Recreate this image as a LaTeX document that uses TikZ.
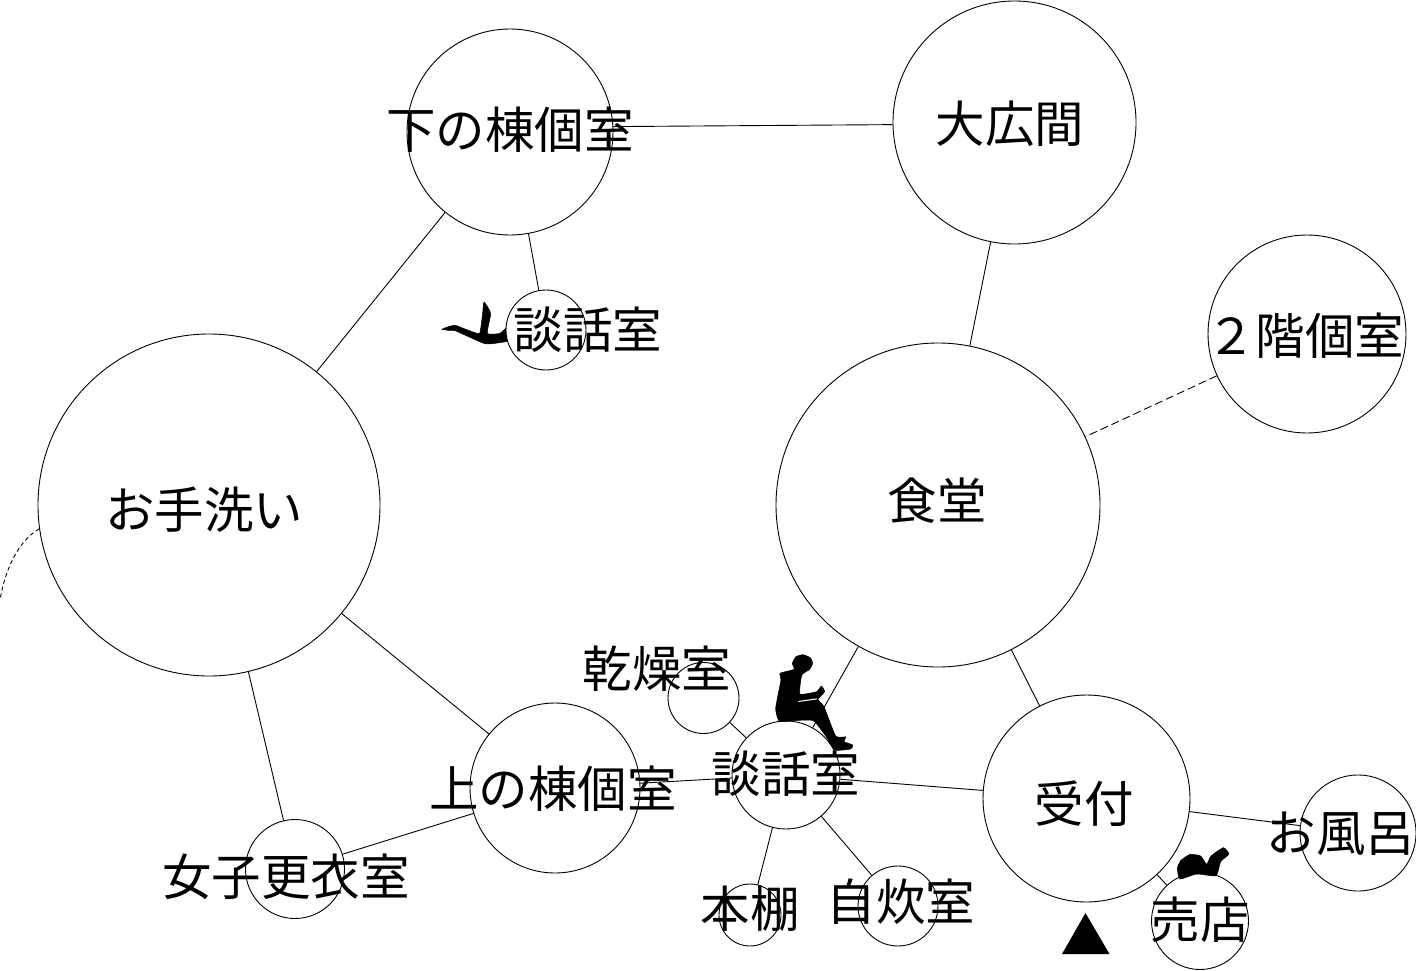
\documentclass[tikz,border=0pt]{standalone}
\usepackage{fontspec}
\setmainfont{Noto Sans CJK JP}
\tikzset{
  room/.style={circle,draw=black,fill=white,line width=0.9pt,inner sep=0pt,minimum size=#1*2pt},
  lab/.style={inner sep=0pt,font=\fontsize{49.5}{49.5}\selectfont,text=black},
  link/.style={line width=0.9pt,draw=black},
  longdash/.style={dash pattern=on 8pt off 4pt},
  shortdash/.style={dash pattern=on 4pt off 3pt},
  sil/.style={fill=black,draw=black,line width=0.5pt}
}
\begin{document}
\begin{tikzpicture}[x=1pt,y=-1pt]
\useasboundingbox (0,0) rectangle (1416,971);
% lying figure (behind its circle)
\begin{scope}[shift={(420pt,-280pt)},x=0.3333pt,y=-0.3333pt]
\path[sil] plot[smooth cycle,tension=0.3] coordinates {(66,148) (85,140) (105,136) (130,145) (170,160) (180,158) (188,100) (192,66) (212,100) (202,160) (240,160) (270,135) (275,180) (200,192) (150,172) (105,152) (85,151)};
\end{scope}
% rooms
\node[room=103] (shimo) at (510,132) {};
\node[room=121.5] (hiro) at (1014.5,122.5) {};
\node[room=40] (dan1) at (546,330) {};
\node[room=99] (ni) at (1307,334) {};
\node[room=162] (shoku) at (938,505) {};
\node[room=171] (tearai) at (209,505) {};
\node[room=35.5] (kanso) at (703.5,698) {};
\node[room=54] (dan2) at (786,775) {};
\node[room=85] (kami) at (555,788) {};
\node[room=103.5] (uke) at (1086.5,798.5) {};
\node[room=58] (furo) at (1358,833) {};
\node[room=48.5] (bai) at (1200,921) {};
\node[room=31] (hon) at (750,915) {};
\node[room=40] (jisui) at (898,906) {};
\node[room=49.5] (kou) at (295,869) {};
\coordinate (edge) at (0,600);
% connectors
\draw[link] (shimo.3) -- (hiro.181);
\draw[link] (shimo) -- (dan1);
\draw[link] (shimo) -- (tearai);
\draw[link] (hiro) -- (shoku);
\draw[link,longdash] (ni) -- (shoku);
\draw[link] (tearai) -- (kou);
\draw[link] (tearai) -- (kami);
\draw[link] (kami) -- (kou);
\draw[link] (kami) -- (dan2);
\draw[link] (dan2) -- (kanso);
\draw[link] (dan2) -- (shoku);
\draw[link] (dan2) -- (uke);
\draw[link] (dan2) -- (hon);
\draw[link] (dan2) -- (jisui);
\draw[link] (uke) -- (shoku);
\draw[link] (uke) -- (furo);
\draw[link] (uke) -- (bai);
\draw[link,shortdash] (tearai.188.6) .. controls (18,541) and (5,570) .. (edge);
% seated figure
\begin{scope}[shift={(660pt,-630pt)},x=0.3333pt,y=-0.3333pt]
\path[sil] plot[smooth cycle,tension=0.3] coordinates {(430,74) (452,84) (458,100) (449,118) (430,130) (424,140) (420,192) (470,185) (484,168) (494,185) (474,208) (492,230) (527,318) (557,321) (552,335) (578,345) (572,357) (525,360) (500,322) (460,272) (400,272) (358,274) (347,235) (363,150) (360,130) (402,118) (397,100) (408,80)};
\fill[white] (415,213) -- (470,205) -- (472,208) -- (415,216) -- cycle;
\end{scope}
% figure on the shop circle
\begin{scope}[shift={(1040pt,-830pt)},x=0.3333pt,y=-0.3333pt]
\path[sil] plot[smooth cycle,tension=0.3] coordinates {(412,115) (422,92) (450,73) (482,78) (500,103) (513,78) (550,53) (567,72) (542,95) (528,137) (470,132) (420,147)};
\end{scope}
% triangle
\coordinate (t1) at (1085.5,913);
\coordinate (t2) at (1062,954);
\coordinate (t3) at (1109.5,954);
\fill[black] (t1) -- (t2) -- (t3) -- cycle;
% labels
\node[lab] (l1) at (510,130) {下の棟個室};
\node[lab] (l2) at (1010,124) {大広間};
\node[lab] (l3) at (588,330) {談話室};
\node[lab] (l4) at (1305,336) {２階個室};
\node[lab] (l5) at (937,501) {食堂};
\node[lab] (l6) at (204,510) {お手洗い};
\node[lab] (l7) at (657,669) {乾燥室};
\node[lab] (l8) at (786,774) {談話室};
\node[lab] (l9) at (553,789) {上の棟個室};
\node[lab] (l10) at (1084,804) {受付};
\node[lab] (l11) at (1341,834) {お風呂};
\node[lab] (l12) at (1200,920) {売店};
\node[lab] (l13) at (750,909) {本棚};
\node[lab] (l14) at (901,902) {自炊室};
\node[lab] (l15) at (286,877) {女子更衣室};
\end{tikzpicture}
\end{document}
